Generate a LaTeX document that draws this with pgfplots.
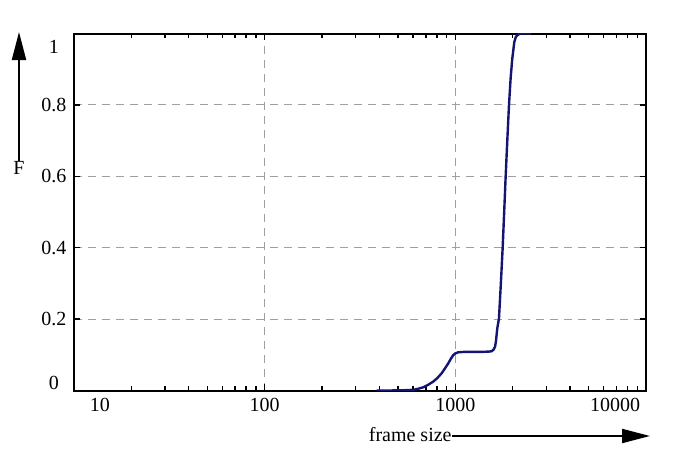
\documentclass[border=0pt]{standalone}
\usepackage{fontspec}
\setmainfont{Liberation Serif}
\usepackage{pgfplots}
\pgfplotsset{compat=1.18}
\usetikzlibrary{arrows.meta}

\definecolor{cdfblue}{RGB}{20,20,115}

\begin{document}
\begin{tikzpicture}
    \useasboundingbox (-37pt,-32.75pt) rectangle (311.5pt,195.25pt);
    \begin{axis}[
        at={(0,0)}, anchor=south west,
        scale only axis,
        width=286pt, height=178.5pt,
        xmode=log,
        xmin=10, xmax=10000,
        ymin=0, ymax=1,
        xtick={10,100,1000,10000},
        xticklabels={{\hspace*{26pt}10}, 100, 1000, {10000\hspace*{31pt}}},
        ytick={0,0.2,0.4,0.6,0.8,1},
        yticklabels={{\raisebox{4pt}[\height][\depth]{0}}, 0.2, 0.4, 0.6, 0.8,
            {\raisebox{-6.5pt}[\height][\depth]{1}}},
        /pgf/number format/assume math mode=true,
        tick pos=both,
        tick align=inside,
        major tick length=3pt,
        minor tick length=2pt,
        every tick/.style={black, line width=0.7pt},
        axis line style={line width=1pt},
        xmajorgrids, ymajorgrids,
        major grid style={gray!75, line width=0.5pt, dash pattern=on 4pt off 3pt},
        yticklabel style={anchor=center, xshift=-10pt},
        xticklabel style={yshift=-0.5pt},
        tick label style={font=\fontsize{10}{12}\selectfont},
    ]

    % cumulative distribution of frame sizes
    \addplot[cdfblue, line width=1.2pt] coordinates {
        (387,0) (450,0) (513,0.0005) (560,0.001) (602,0.002) (640,0.005)
        (679,0.009) (720,0.016) (766,0.025) (805,0.035) (847,0.048)
        (880,0.061) (918,0.076) (950,0.090) (975,0.099) (1000,0.104)
        (1036,0.107) (1100,0.108) (1200,0.108) (1350,0.108) (1500,0.109)
        (1552,0.110) (1590,0.115) (1616,0.123) (1635,0.140) (1649,0.160)
        (1660,0.174) (1694,0.202) (1733,0.300) (1772,0.402) (1804,0.500)
        (1836,0.598) (1873,0.700) (1911,0.798) (1950,0.875) (1989,0.929)
        (2038,0.976) (2075,0.990) (2113,0.995) (2183,1.0) (2500,1.0)
    };

    \end{axis}

    % axis labels with arrows
    \node[font=\fontsize{10}{12}\selectfont] at (-27.5pt,111.25pt) {F};
    \draw[line width=1pt, -{Triangle[length=14pt,width=7pt]}]
        (-27.5pt,114.75pt) -- (-27.5pt,179.25pt);
    \node[font=\fontsize{10}{12}\selectfont, anchor=east, inner sep=0pt]
        (xl) at (189pt,-22.25pt) {frame size};
    \draw[line width=1pt, -{Triangle[length=14pt,width=7pt]}]
        (189pt,-22.75pt) -- (288pt,-22.75pt);
\end{tikzpicture}
\end{document}
